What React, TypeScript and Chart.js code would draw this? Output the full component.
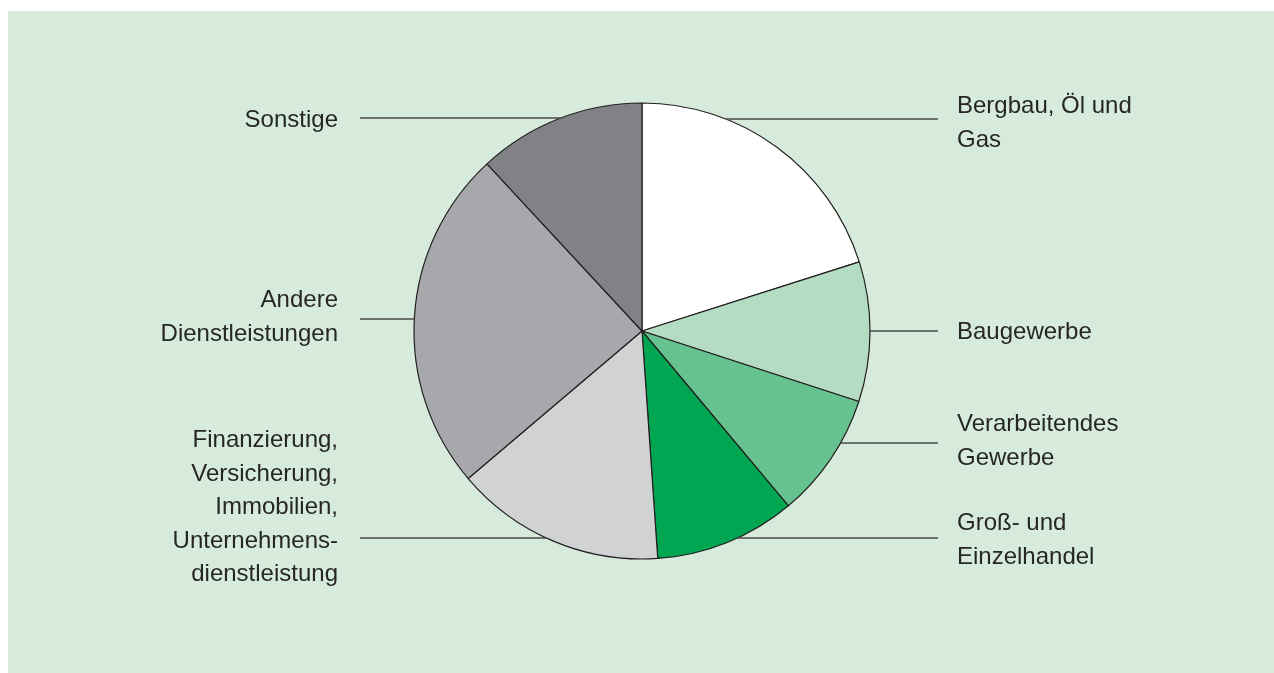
import React, { useEffect, useRef } from "react";
import { Chart, registerables } from "chart.js";

Chart.register(...registerables);

// ---- Data ----
const categories = [
  "Bergbau, Öl und Gas",
  "Baugewerbe",
  "Verarbeitendes Gewerbe",
  "Groß- und Einzelhandel",
  "Finanzierung, Versicherung, Immobilien, Unternehmensdienstleistung",
  "Andere Dienstleistungen",
  "Sonstige",
];
const labelLines = [
  ["Bergbau, Öl und", "Gas"],
  ["Baugewerbe"],
  ["Verarbeitendes", "Gewerbe"],
  ["Groß- und", "Einzelhandel"],
  ["Finanzierung,", "Versicherung,", "Immobilien,", "Unternehmens-", "dienstleistung"],
  ["Andere", "Dienstleistungen"],
  ["Sonstige"],
];
const shares = [20.1, 9.9, 8.9, 10.0, 14.9, 24.3, 11.9];
const sliceColors = ["#ffffff", "#b3dcc2", "#66c28e", "#00a651", "#d1d2d4", "#a7a8ab", "#808285"];

// ---- Label layout (relative to pie centre) ----
const LAYOUT: { side: "left" | "right"; lineDy: number; baseDy: number }[] = [
  { side: "right", lineDy: -212, baseDy: -218 },
  { side: "right", lineDy: 0, baseDy: 8 },
  { side: "right", lineDy: 112, baseDy: 100 },
  { side: "right", lineDy: 207, baseDy: 199 },
  { side: "left", lineDy: 207, baseDy: 116 },
  { side: "left", lineDy: -12, baseDy: -24 },
  { side: "left", lineDy: -213, baseDy: -204 },
];
const LINE_H = 33.5;

const leaderPlugin = {
  id: "leaders",
  afterDatasetsDraw(chart: any) {
    const meta = chart.getDatasetMeta(0);
    if (!meta.data.length) return;
    const arc = meta.data[0];
    const { x: cx, y: cy, outerRadius: r } = arc.getProps(["x", "y", "outerRadius"], true);
    const ctx = chart.ctx;
    ctx.save();
    ctx.strokeStyle = "#4a4a4a";
    ctx.lineWidth = 1.3;
    ctx.font = '24px "Liberation Sans", Arial, sans-serif';
    ctx.fillStyle = "#262626";
    ctx.textBaseline = "alphabetic";
    LAYOUT.forEach((L, i) => {
      const ly = cy + L.lineDy;
      const edge = Math.sqrt(Math.max(r * r - L.lineDy * L.lineDy, 0));
      let x0, x1, tx;
      if (L.side === "right") {
        x0 = cx + edge;
        x1 = cx + 296;
        tx = cx + 315;
        ctx.textAlign = "left";
      } else {
        x0 = cx - 282;
        x1 = cx - edge;
        tx = cx - 304;
        ctx.textAlign = "right";
      }
      ctx.beginPath();
      ctx.moveTo(x0, ly);
      ctx.lineTo(x1, ly);
      ctx.stroke();
      labelLines[i].forEach((t, k) => {
        ctx.fillText(t, tx, cy + L.baseDy + k * LINE_H);
      });
    });
    ctx.restore();
  },
};

export default function App() {
  const ref = useRef<HTMLCanvasElement | null>(null);
  useEffect(() => {
    if (!ref.current) return;
    const chart = new Chart(ref.current, {
      type: "pie",
      data: {
        labels: categories,
        datasets: [
          {
            data: shares,
            backgroundColor: sliceColors,
            borderColor: "#231f20",
            borderWidth: 1.2,
            radius: 228,
          } as any,
        ],
      },
      options: {
        animation: false,
        responsive: true,
        maintainAspectRatio: false,
        layout: { padding: { top: 92, bottom: 114, left: 2, right: 0 } },
        plugins: {
          legend: { display: false },
          tooltip: { enabled: false },
        },
      },
      plugins: [leaderPlugin],
    });
    return () => chart.destroy();
  }, []);

  return (
    <div
      style={{
        position: "absolute",
        left: 8,
        top: 11,
        width: 1266,
        height: 662,
        background: "#d7ebdd",
      }}
    >
      <canvas ref={ref} />
    </div>
  );
}
